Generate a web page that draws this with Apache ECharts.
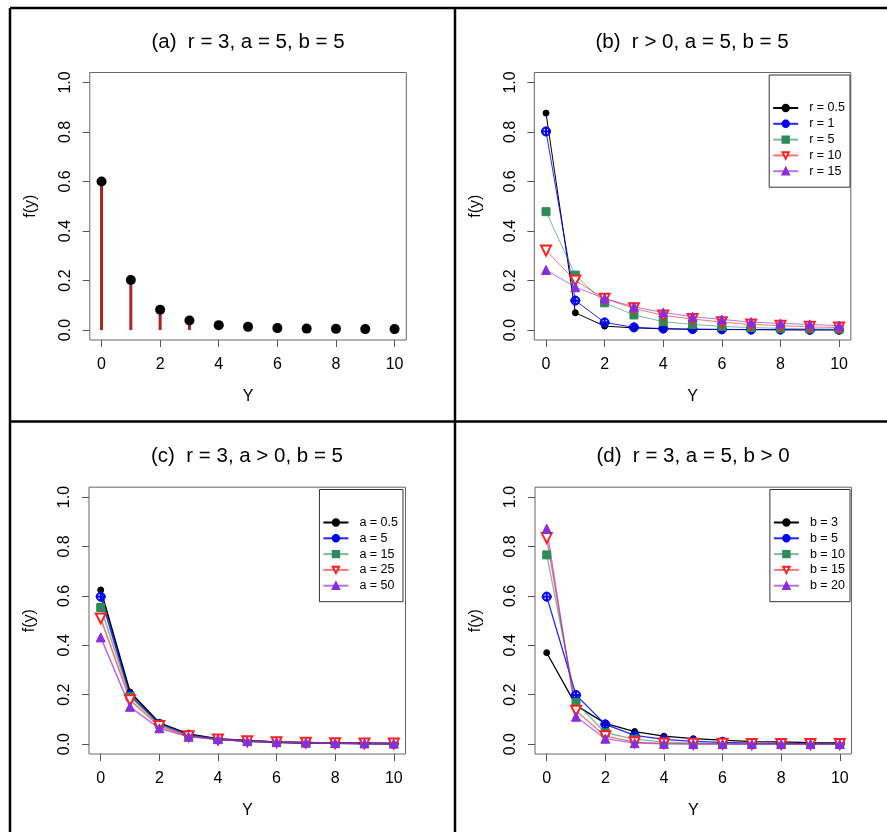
<!DOCTYPE html>
<html><head><meta charset="utf-8">
<script src="https://cdn.jsdelivr.net/npm/echarts@6/dist/echarts.min.js"></script>
<style>html,body{margin:0;padding:0;background:#fff}#c{width:887px;height:832px}</style>
</head><body><div id="c"></div>
<script>
// ---------- data ----------
const xVals = [0, 1, 2, 3, 4, 5, 6, 7, 8, 9, 10];
const xTicks = [0, 2, 4, 6, 8, 10];
const yTicks = [0, 0.2, 0.4, 0.6, 0.8, 1.0];
const titles = ['(a)  r = 3, a = 5, b = 5', '(b)  r > 0, a = 5, b = 5', '(c)  r = 3, a > 0, b = 5', '(d)  r = 3, a = 5, b > 0'];
const xName = 'Y';
const yName = 'f(y)';

// panel (a)
const fA = [0.600, 0.202, 0.082, 0.039, 0.020, 0.013, 0.008, 0.006, 0.005, 0.004, 0.004];

// panel (b)
const namesB = ['r = 0.5', 'r = 1', 'r = 5', 'r = 10', 'r = 15'];
const r05 = [0.876, 0.070, 0.016, 0.009, 0.005, 0.003, 0.002, 0.002, 0.001, 0.001, 0.001];
const r1  = [0.802, 0.119, 0.031, 0.011, 0.006, 0.004, 0.003, 0.002, 0.002, 0.001, 0.001];
const r5  = [0.478, 0.222, 0.110, 0.061, 0.034, 0.023, 0.015, 0.010, 0.007, 0.005, 0.004];
const r10 = [0.321, 0.200, 0.127, 0.088, 0.059, 0.045, 0.032, 0.023, 0.018, 0.013, 0.010];
const r15 = [0.243, 0.173, 0.128, 0.094, 0.071, 0.054, 0.043, 0.032, 0.027, 0.023, 0.018];

// panel (c)
const namesC = ['a = 0.5', 'a = 5', 'a = 15', 'a = 25', 'a = 50'];
const a05 = [0.624, 0.211, 0.086, 0.041, 0.022, 0.014, 0.008, 0.005, 0.004, 0.003, 0.002];
const a5  = [0.597, 0.199, 0.082, 0.038, 0.020, 0.012, 0.008, 0.005, 0.004, 0.003, 0.002];
const a15 = [0.553, 0.192, 0.080, 0.036, 0.020, 0.012, 0.008, 0.006, 0.004, 0.003, 0.002];
const a25 = [0.509, 0.178, 0.073, 0.032, 0.019, 0.012, 0.008, 0.006, 0.004, 0.003, 0.002];
const a50 = [0.432, 0.151, 0.064, 0.030, 0.020, 0.012, 0.008, 0.006, 0.004, 0.003, 0.002];

// panel (d)
const namesD = ['b = 3', 'b = 5', 'b = 10', 'b = 15', 'b = 20'];
const b3  = [0.370, 0.157, 0.084, 0.051, 0.032, 0.022, 0.016, 0.010, 0.009, 0.006, 0.005];
const b5  = [0.597, 0.199, 0.080, 0.035, 0.019, 0.011, 0.007, 0.004, 0.003, 0.002, 0.002];
const b10 = [0.766, 0.168, 0.046, 0.020, 0.008, 0.004, 0.002, 0.001, 0.001, 0.001, 0.000];
const b15 = [0.834, 0.135, 0.032, 0.008, 0.003, 0.001, 0.001, 0.000, 0.000, 0.000, 0.000];
const b20 = [0.872, 0.111, 0.022, 0.004, 0.001, 0.000, 0.000, 0.000, 0.000, 0.000, 0.000];

// ---------- styles ----------
const FONT = '"Liberation Sans", Arial, sans-serif';
const circlePlus = 'path://M10 0 A10 10 0 1 1 10 20 A10 10 0 1 1 10 0 Z M10 2.6 A7.4 7.4 0 1 0 10 17.4 A7.4 7.4 0 1 0 10 2.6 Z M9 0 H11 V20 H9 Z M0 9 H20 V11 H0 Z';
const seriesStyles = [
  { color: '#000000', lineColor: '#000000', lineOpacity: 1.0, symbol: 'circle', size: 6, rotate: 0 },
  { color: '#0000FF', lineColor: '#0000FF', lineOpacity: 0.85, symbol: circlePlus, size: 9, rotate: 0 },
  { color: '#2E8B57', lineColor: '#2E8B57', lineOpacity: 0.6, symbol: 'rect', size: 8, rotate: 0 },
  { color: '#FF2020', lineColor: '#FF0000', lineOpacity: 0.55, symbol: 'emptyTriangle', size: 10, rotate: 180 },
  { color: '#8A2BE2', lineColor: '#8A2BE2', lineOpacity: 0.65, symbol: 'triangle', size: 9, rotate: 0 }
];
const grids = [
  { left: 89.8, top: 72.5, width: 316.5, height: 267.5 },
  { left: 534.3, top: 72.5, width: 316.5, height: 267.5 },
  { left: 89.0, top: 487.2, width: 316.5, height: 266.8 },
  { left: 535.0, top: 487.2, width: 316.5, height: 266.8 }
];
const lineWidths = [1, 1, 1.6, 1.3];

const pairs = (ys) => xVals.map((x, i) => [x, ys[i]]);

const xAxes = grids.map((g, i) => ({
  gridIndex: i, type: 'value', min: -0.4, max: 10.4,
  name: xName, nameLocation: 'middle', nameGap: 49,
  nameTextStyle: { fontSize: 16, color: '#000', fontFamily: FONT },
  axisLine: { show: false, onZero: false },
  axisTick: { show: true, length: 7, customValues: xTicks, lineStyle: { color: '#555', width: 1 } },
  axisLabel: { customValues: xTicks, margin: 17, fontSize: 16, color: '#000', fontFamily: FONT, formatter: v => String(v) },
  splitLine: { show: false }
}));
const yAxes = grids.map((g, i) => ({
  gridIndex: i, type: 'value', min: -0.04, max: 1.04,
  name: yName, nameLocation: 'middle', nameGap: 51, nameRotate: 90,
  nameTextStyle: { fontSize: 16, color: '#000', fontFamily: FONT },
  axisLine: { show: false, onZero: false },
  axisTick: { show: true, length: 7, customValues: yTicks, lineStyle: { color: '#555', width: 1 } },
  axisLabel: { customValues: yTicks, margin: 16, rotate: 90, fontSize: 16, color: '#000', fontFamily: FONT, formatter: v => v.toFixed(1) },
  splitLine: { show: false }
}));

const series = [];
// panel (a): stems and points
series.push({
  type: 'bar', xAxisIndex: 0, yAxisIndex: 0, barWidth: 3, silent: true,
  itemStyle: { color: '#B22222', opacity: 1 }, data: pairs(fA)
});
series.push({
  type: 'scatter', xAxisIndex: 0, yAxisIndex: 0, symbol: 'circle', symbolSize: 10, silent: true,
  itemStyle: { color: '#000', opacity: 1 }, data: pairs(fA)
});
function addPanel(idx, names, arrays) {
  arrays.forEach((arr, k) => {
    const st = seriesStyles[k];
    series.push({
      type: 'line', name: names[k], xAxisIndex: idx, yAxisIndex: idx,
      symbol: st.symbol, symbolSize: st.size, symbolRotate: st.rotate, showAllSymbol: true,
      lineStyle: { color: st.lineColor, width: lineWidths[idx], opacity: st.lineOpacity },
      itemStyle: { color: st.color, borderColor: st.color, borderWidth: 1, opacity: 1 },
      data: pairs(arr), animation: false, silent: true
    });
  });
}
addPanel(1, namesB, [r05, r1, r5, r10, r15]);
addPanel(2, namesC, [a05, a5, a15, a25, a50]);
addPanel(3, namesD, [b3, b5, b10, b15, b20]);

const legendBase = {
  orient: 'vertical', itemWidth: 25, itemHeight: 8, itemGap: 1.8,
  padding: [26, 5, 9, 3], borderColor: '#333', borderWidth: 1, selectedMode: false,
  textStyle: { fontSize: 12.5, color: '#000', fontFamily: FONT, lineHeight: 14, padding: [0, 0, 0, 6] }
};
const legends = [
  Object.assign({}, legendBase, { data: namesB, right: 37, top: 75 }),
  Object.assign({}, legendBase, { data: namesC, right: 484, top: 489.5 }),
  Object.assign({}, legendBase, { data: namesD, right: 37, top: 489.5 })
];

const titleCenters = [[248, 42], [692, 42], [247, 456], [693, 456]];
const graphics = [];
titles.forEach((t, i) => graphics.push({
  type: 'text', x: titleCenters[i][0], y: titleCenters[i][1], silent: true,
  style: { text: t, fontSize: 20.5, fontFamily: FONT, fill: '#000', textAlign: 'center', textVerticalAlign: 'middle' }
}));
const frameLines = [
  [10, 8, 10, 832], [10, 8, 887, 8], [455, 8, 455, 832], [10, 421.5, 887, 421.5]
];
frameLines.forEach(l => graphics.push({
  type: 'line', silent: true, shape: { x1: l[0], y1: l[1], x2: l[2], y2: l[3] },
  style: { stroke: '#000', lineWidth: 2.5 }
}));

const chart = echarts.init(document.getElementById('c'), null, { renderer: 'canvas' });
chart.setOption({
  animation: false,
  backgroundColor: '#fff',
  grid: grids.map(g => Object.assign({ show: true, borderColor: '#666', borderWidth: 1, backgroundColor: 'transparent', containLabel: false }, g)),
  xAxis: xAxes,
  yAxis: yAxes,
  legend: legends,
  series: series,
  graphic: graphics
});
</script></body></html>
